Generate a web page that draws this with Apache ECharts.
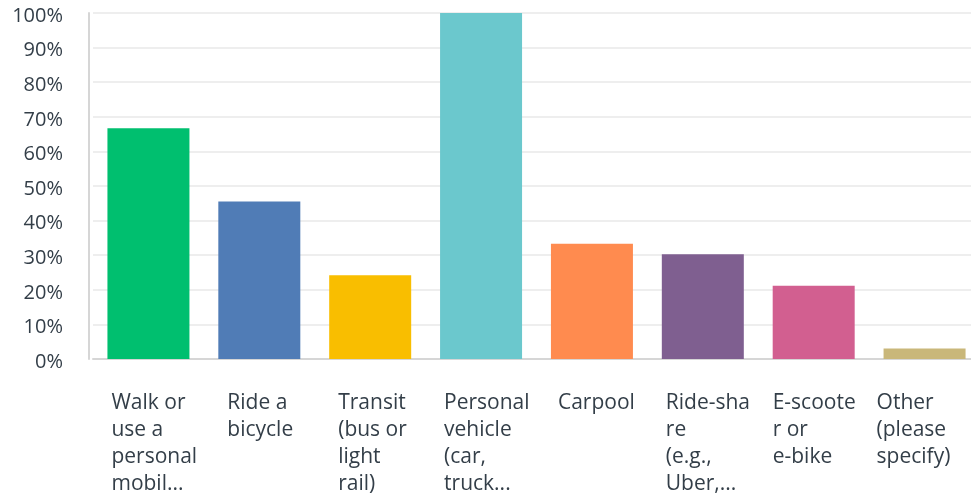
<!DOCTYPE html>
<html>
<head>
<meta charset="utf-8">
<style>
  html, body { margin: 0; padding: 0; background: #ffffff; overflow: hidden; }
  #chart { width: 980px; height: 496px; }
</style>
<script src="https://cdn.jsdelivr.net/npm/echarts@6/dist/echarts.min.js"></script>
</head>
<body>
<div id="chart"></div>
<script>
// Answer choices, as shown under each bar (wrapped and shortened)
const categories = [
  'Walk or\nuse a\npersonal\nmobil...',
  'Ride a\nbicycle',
  'Transit\n(bus or\nlight\nrail)',
  'Personal\nvehicle\n(car,\ntruck...',
  'Carpool',
  'Ride-sha\nre\n(e.g.,\nUber,...',
  'E-scoote\nr or\ne-bike',
  'Other\n(please\nspecify)'
];

// Share of respondents choosing each option, in percent
const percentages = [66.7, 45.5, 24.2, 100, 33.3, 30.3, 21.2, 3.0];

// One colour per answer choice
const barColors = ['#00BF6F', '#507CB6', '#F9BE00', '#6BC8CD', '#FF8B4F', '#7F5F90', '#D25F90', '#C9B77A'];

// Y axis ticks
const yTicks = [0, 10, 20, 30, 40, 50, 60, 70, 80, 90, 100];

const fontFamily = '"Open Sans", "Liberation Sans", sans-serif';
const textColor = '#333e48';

// Each category label is a left-aligned block centred under its bar
const labelBlockWidths = [74, 64, 64, 74, 68, 74, 82, 96];
const rich = {};
labelBlockWidths.forEach((w, i) => {
  rich['w' + i] = {
    width: w,
    align: 'left',
    fontFamily: fontFamily,
    fontSize: 21,
    lineHeight: 27,
    color: textColor
  };
});

const chart = echarts.init(document.getElementById('chart'), null, { renderer: 'canvas' });

chart.setOption({
  animation: false,
  backgroundColor: '#ffffff',
  grid: { left: 93, right: 0, top: 13, bottom: 137, containLabel: false },
  xAxis: {
    type: 'category',
    data: categories,
    axisLine: { show: true, lineStyle: { color: '#d6d6d6', width: 2 } },
    axisTick: { show: false },
    axisLabel: {
      interval: 0,
      margin: 31,
      align: 'center',
      verticalAlign: 'top',
      formatter: (value, index) => value.split('\n').map(line => '{w' + index + '|' + line + '}').join('\n'),
      rich: rich
    }
  },
  yAxis: {
    type: 'value',
    min: yTicks[0],
    max: yTicks[yTicks.length - 1],
    interval: yTicks[1] - yTicks[0],
    offset: 4,
    axisLine: { show: true, lineStyle: { color: '#d6d6d6', width: 2 } },
    axisTick: { show: false },
    splitLine: { show: true, lineStyle: { color: '#eeeeee', width: 2 } },
    axisLabel: {
      margin: 26,
      fontFamily: fontFamily,
      fontSize: 20,
      color: textColor,
      verticalAlign: 'top',
      lineHeight: 6,
      formatter: v => v + '%'
    }
  },
  series: [{
    type: 'bar',
    barWidth: 82,
    data: percentages.map((v, i) => ({ value: v, itemStyle: { color: barColors[i] } }))
  }]
});
</script>
</body>
</html>
